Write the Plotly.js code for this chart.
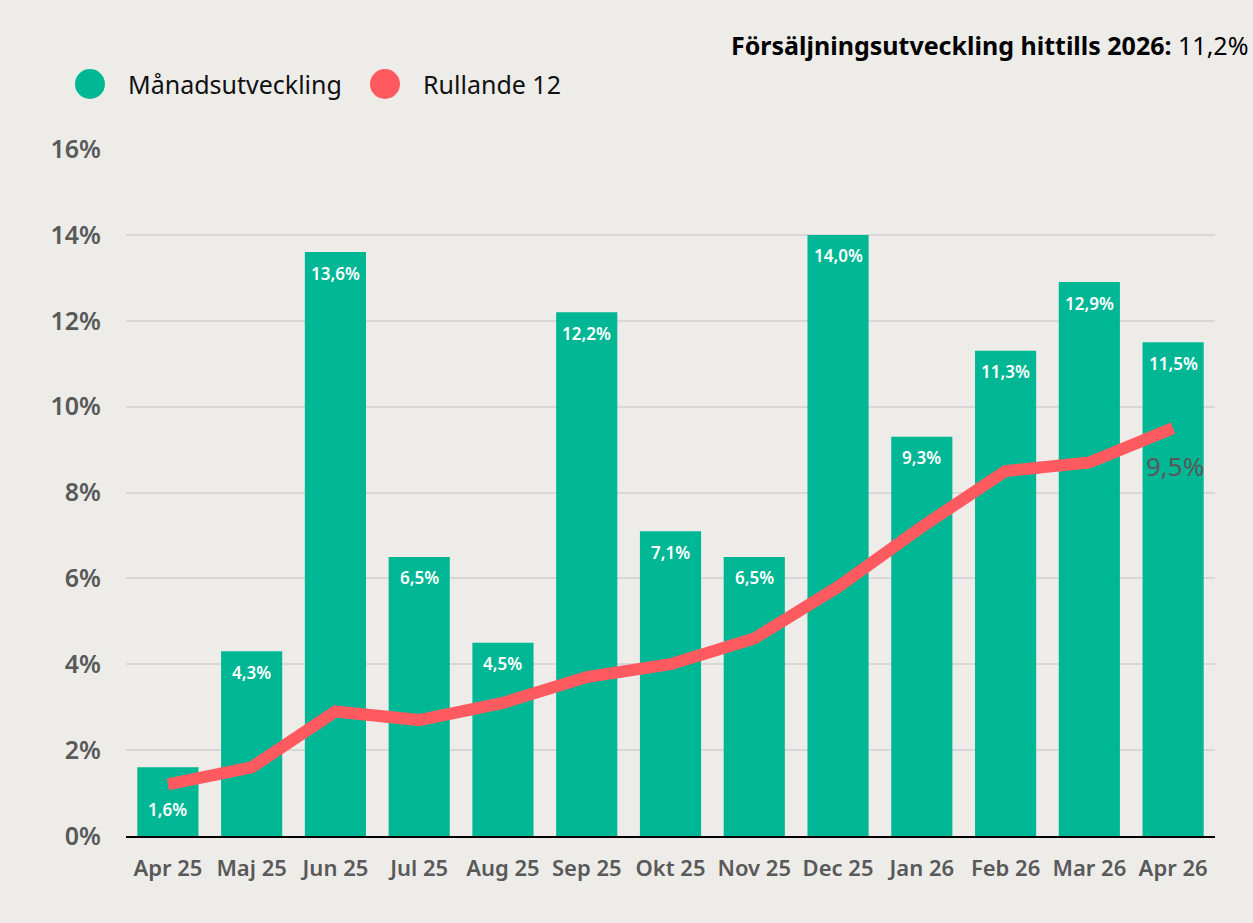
<!DOCTYPE html>
<html><head><meta charset="utf-8">
<script src="https://cdn.plot.ly/plotly-3.0.1.min.js"></script>
<style>html,body{margin:0;padding:0;background:#EDECE9;}#chart{width:1253px;height:923px;}</style>
</head><body><div id="chart"></div>
<script>
const categories = ["Apr 25","Maj 25","Jun 25","Jul 25","Aug 25","Sep 25","Okt 25","Nov 25","Dec 25","Jan 26","Feb 26","Mar 26","Apr 26"];
const monthly = [1.6, 4.3, 13.6, 6.5, 4.5, 12.2, 7.1, 6.5, 14.0, 9.3, 11.3, 12.9, 11.5];
const rolling12 = [1.2, 1.6, 2.9, 2.7, 3.1, 3.7, 4.0, 4.6, 5.8, 7.2, 8.5, 8.7, 9.5];
const seriesNames = ["Månadsutveckling", "Rullande 12"];
const headlineLabel = "Försäljningsutveckling hittills 2026:";
const headlineValue = 11.2;

const GREEN = "#00B795", RED = "#FF5A5F", GRAY = "#595959", FONT = "Noto Sans, Open Sans, sans-serif";
const fmt = v => v.toFixed(1).replace(".", ",") + "%";

const traces = [
  {type: "bar", x: categories, y: monthly, name: seriesNames[0], marker: {color: GREEN}, showlegend: false, hoverinfo: "skip"},
  {type: "scatter", mode: "lines", x: categories, y: rolling12, name: seriesNames[1], line: {color: RED, width: 12}, showlegend: false, hoverinfo: "skip"}
];

const annotations = monthly.map((v, i) => ({
  x: categories[i], y: v, xref: "x", yref: "y", text: fmt(v), showarrow: false,
  yanchor: "middle", yshift: (v < 2 ? -42 : -21),
  font: {family: FONT, size: 17, color: "#ffffff", weight: 600}
}));
const li = rolling12.length - 1;
annotations.push({x: categories[li], y: rolling12[li], xref: "x", yref: "y", text: fmt(rolling12[li]), showarrow: false,
  yanchor: "middle", yshift: -38, xshift: 2, font: {family: FONT, size: 26, color: GRAY}});
annotations.push({xref: "paper", yref: "paper", x: 1.032, y: 1.151, xanchor: "right", yanchor: "middle", showarrow: false,
  text: "<b>" + headlineLabel + "</b> " + fmt(headlineValue), font: {family: FONT, size: 25, color: "#000"}});

// custom legend
const legendX = [-0.0331, 0.2378];
const legendColors = [GREEN, RED];
const shapes = [];
seriesNames.forEach((n, i) => {
  shapes.push({type: "circle", xref: "paper", yref: "paper", xsizemode: "pixel", ysizemode: "pixel",
    xanchor: legendX[i], yanchor: 1.0946, x0: -15, x1: 15, y0: -15, y1: 15, fillcolor: legendColors[i], line: {width: 0}});
  annotations.push({xref: "paper", yref: "paper", x: legendX[i], xshift: 36, y: 1.0946, xanchor: "left", yanchor: "middle",
    showarrow: false, text: n, font: {family: FONT, size: 25, color: "#111"}});
});

const layout = {
  width: 1253, height: 923,
  paper_bgcolor: "#EDECE9", plot_bgcolor: "#EDECE9",
  margin: {l: 126, r: 38, t: 149, b: 87},
  bargap: 0.27,
  showlegend: false,
  font: {family: FONT},
  xaxis: {type: "category", range: [-0.5, 12.5], showgrid: false, showline: true, linecolor: "#000", linewidth: 2,
    ticks: "", ticklabelstandoff: 12, tickfont: {family: FONT, size: 22, color: GRAY, weight: 600}, zeroline: false},
  yaxis: {range: [0, 16], dtick: 2, ticksuffix: "%", showgrid: true, gridcolor: "#D8D7D6", gridwidth: 2, zeroline: false,
    ticklabelstandoff: 24, tickfont: {family: FONT, size: 25, color: GRAY, weight: 600}},
  annotations: annotations,
  shapes: shapes
};
Plotly.newPlot("chart", traces, layout, {displayModeBar: false, staticPlot: true});
</script></body></html>
